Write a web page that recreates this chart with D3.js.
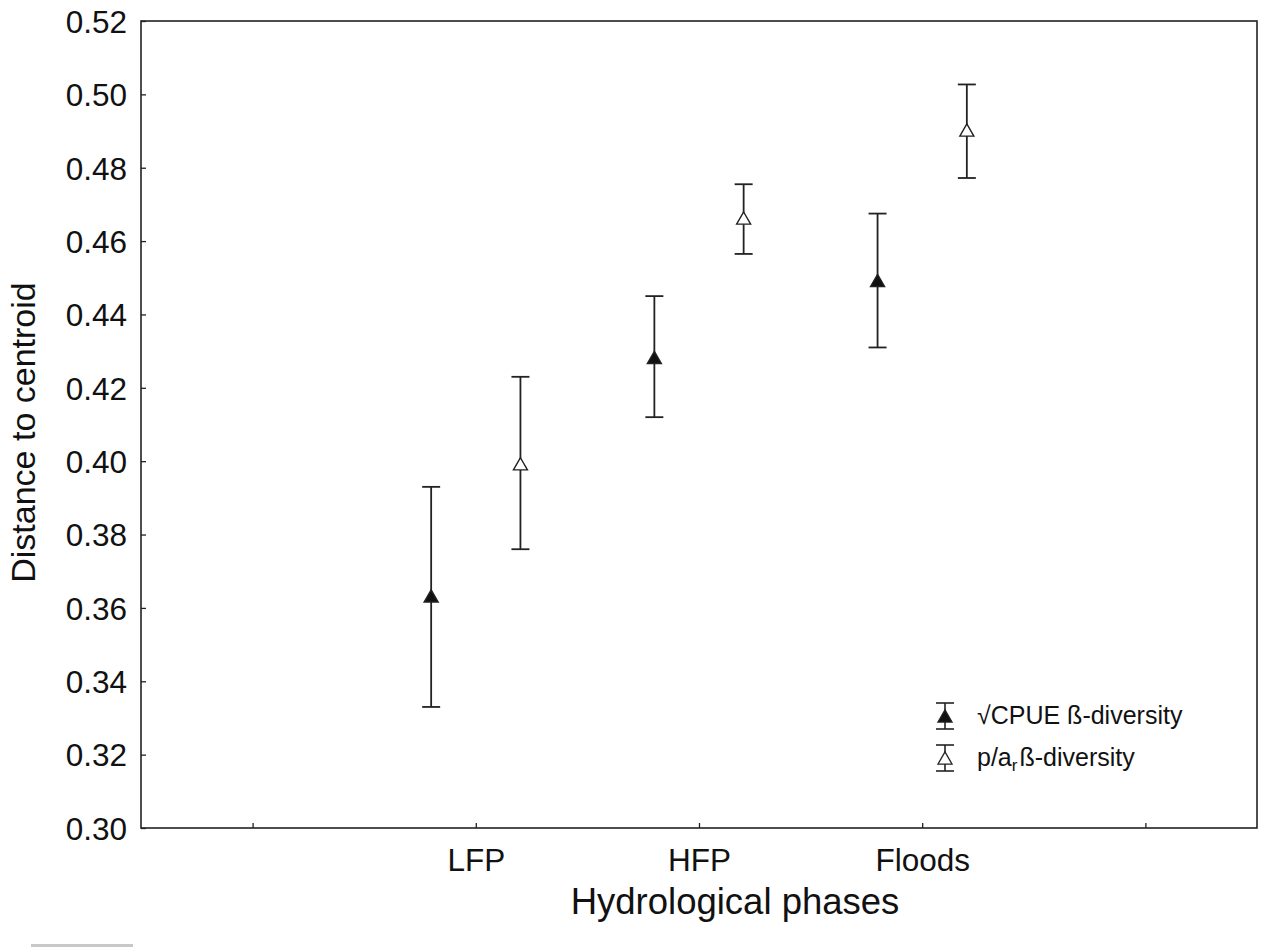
<!DOCTYPE html>
<html>
<head>
<meta charset="utf-8">
<script src="https://cdn.jsdelivr.net/npm/d3@7"></script>
<style>
  body { margin: 0; background: #fff; }
  svg { display: block; font-family: "Liberation Sans", Arial, sans-serif; }
</style>
</head>
<body>
<svg id="chart" width="1262" height="947"></svg>
<script>
// ---- data ----
const categories = ["", "LFP", "HFP", "Floods", ""];
const phases = ["LFP", "HFP", "Floods"];
const cpueMean  = [0.363, 0.428, 0.449];
const cpueLower = [0.333, 0.412, 0.431];
const cpueUpper = [0.393, 0.445, 0.4675];
const paMean    = [0.399, 0.466, 0.490];
const paLower   = [0.376, 0.4565, 0.4772];
const paUpper   = [0.423, 0.4755, 0.5027];
const yTicks = [0.30, 0.32, 0.34, 0.36, 0.38, 0.40, 0.42, 0.44, 0.46, 0.48, 0.50, 0.52];
const seriesNames = ["√CPUE ß-diversity", "p/a"];

// ---- layout ----
const svg = d3.select("#chart");
const L = 141, R = 1257, T = 21, B = 828;
const x = d3.scaleLinear().domain([-0.5, 4.5]).range([L, R]);
const y = d3.scaleLinear().domain([0.30, 0.52]).range([B, T]);

// frame
svg.append("rect").attr("x", L).attr("y", T).attr("width", R - L).attr("height", B - T)
  .attr("fill", "none").attr("stroke", "#222").attr("stroke-width", 1.6);

// y axis
const yAxis = svg.append("g").attr("transform", `translate(${L},0)`)
  .call(d3.axisLeft(y).tickValues(yTicks).tickFormat(d3.format(".2f")).tickSizeInner(-5).tickSizeOuter(0).tickPadding(14));
yAxis.select(".domain").remove();
yAxis.selectAll("line").attr("stroke", "#222").attr("stroke-width", 1.3);
yAxis.selectAll("text").attr("font-size", 31.5).attr("fill", "#111").attr("dy", "0.36em");

// x axis
const xAxis = svg.append("g").attr("transform", `translate(0,${B})`)
  .call(d3.axisBottom(x).tickValues([0, 1, 2, 3, 4]).tickFormat(i => categories[i]).tickSizeInner(-5).tickSizeOuter(0).tickPadding(21));
xAxis.select(".domain").remove();
xAxis.selectAll("line").attr("stroke", "#222").attr("stroke-width", 1.3);
xAxis.selectAll("text").attr("font-size", 31.5).attr("fill", "#111").attr("dy", "0.71em");

// axis titles
svg.append("text").attr("transform", `translate(35,${(T + B) / 2 + 8}) rotate(-90)`)
  .attr("text-anchor", "middle").attr("font-size", 34).attr("fill", "#111").text("Distance to centroid");
svg.append("text").attr("x", 735).attr("y", 914)
  .attr("text-anchor", "middle").attr("font-size", 36.5).attr("fill", "#111").text("Hydrological phases");

// error bars
const off = 0.2, cap = 9;
const tri = d3.symbol().type(d3.symbolTriangle).size(85);
function drawSeries(means, lows, ups, dx, filled) {
  const g = svg.append("g");
  phases.forEach((p, i) => {
    const cx = x(i + 1 + dx);
    g.append("line").attr("x1", cx).attr("x2", cx).attr("y1", y(lows[i])).attr("y2", y(ups[i]))
      .attr("stroke", "#222").attr("stroke-width", 1.8);
    [lows[i], ups[i]].forEach(v => {
      g.append("line").attr("x1", cx - cap).attr("x2", cx + cap).attr("y1", y(v)).attr("y2", y(v))
        .attr("stroke", "#222").attr("stroke-width", 1.8);
    });
    g.append("path").attr("d", tri).attr("transform", `translate(${cx},${y(means[i]) + 1})`)
      .attr("fill", filled ? "#111" : "#fff").attr("stroke", "#222").attr("stroke-width", 1.4);
  });
}
drawSeries(cpueMean, cpueLower, cpueUpper, -off, true);
drawSeries(paMean, paLower, paUpper, off, false);

// legend
const lg = svg.append("g");
function legendSymbol(cx, cy, filled) {
  lg.append("line").attr("x1", cx).attr("x2", cx).attr("y1", cy - 13).attr("y2", cy + 13).attr("stroke", "#222").attr("stroke-width", 1.6);
  [cy - 13, cy + 13].forEach(v => lg.append("line").attr("x1", cx - 9).attr("x2", cx + 9).attr("y1", v).attr("y2", v).attr("stroke", "#222").attr("stroke-width", 1.6));
  lg.append("path").attr("d", tri).attr("transform", `translate(${cx},${cy + 2})`)
    .attr("fill", filled ? "#111" : "#fff").attr("stroke", "#222").attr("stroke-width", 1.3);
}
legendSymbol(945, 716, true);
legendSymbol(945, 758, false);
lg.append("text").attr("x", 977).attr("y", 724).attr("font-size", 25).attr("fill", "#111").text(seriesNames[0]);
const t2 = lg.append("text").attr("x", 977).attr("y", 766).attr("font-size", 25).attr("fill", "#111");
t2.append("tspan").text(seriesNames[1]);
t2.append("tspan").attr("font-size", 17).attr("dy", 5).text("r");
t2.append("tspan").attr("dy", -5).attr("dx", 2).text("ß-diversity");

// scan artifact line at bottom-left
svg.append("rect").attr("x", 31).attr("y", 944).attr("width", 102).attr("height", 3).attr("fill", "#c8c8c8");
</script>
</body>
</html>
